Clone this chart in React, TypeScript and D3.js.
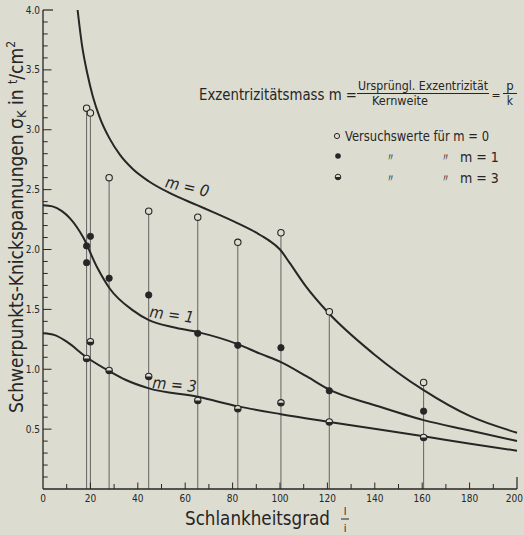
import React from "react";
import * as d3 from "d3";

const W = 524;
const H = 535;

// x-axis ticks (Schlankheitsgrad) and y-axis ticks (t/cm²)
const xTickLabels = [0, 20, 40, 60, 80, 100, 120, 140, 160, 180, 200];
const yTickLabels = ["0.5", "1.0", "1.5", "2.0", "2.5", "3.0", "3.5", "4.0"];

// measurement stations (vertical lines)
const stationX = [18.4, 20, 27.9, 44.6, 65.3, 82.2, 100.4, 120.8, 160.6];

// Versuchswerte (test values)
const m0Points: [number, number][] = [
  [18.4, 3.18], [20, 3.14], [27.9, 2.6], [44.6, 2.32], [65.3, 2.27],
  [82.2, 2.06], [100.4, 2.14], [120.8, 1.48], [160.6, 0.89],
];
const m1Points: [number, number][] = [
  [18.4, 2.03], [18.4, 1.89], [20, 2.11], [27.9, 1.76], [44.6, 1.62],
  [65.3, 1.3], [82.2, 1.2], [100.4, 1.18], [120.8, 0.82], [160.6, 0.65],
];
const m3Points: [number, number][] = [
  [18.4, 1.09], [20, 1.23], [27.9, 0.99], [44.6, 0.94], [65.3, 0.74],
  [82.2, 0.67], [100.4, 0.72], [120.8, 0.56], [160.6, 0.43],
];

// theoretical curves
const m0Curve: [number, number][] = [
  [14.6, 4.0], [16.5, 3.7], [18.7, 3.47], [21, 3.28], [24, 3.1], [28, 2.93],
  [32.5, 2.79], [38, 2.67], [44.6, 2.57], [53.6, 2.47], [65, 2.37],
  [72, 2.31], [82, 2.22], [90, 2.14], [95, 2.08], [100, 2.0], [104, 1.89],
  [111, 1.69], [120, 1.48], [139.4, 1.13], [160.6, 0.825], [180, 0.61],
  [200, 0.47],
];
const m1Curve: [number, number][] = [
  [0, 2.37], [4, 2.36], [8, 2.32], [11.4, 2.26], [17, 2.1], [22.6, 1.86],
  [28.3, 1.67], [38.1, 1.49], [44.7, 1.41], [55, 1.35], [65.3, 1.31],
  [82.1, 1.21], [91.6, 1.13], [100.4, 1.06], [111.3, 0.94], [120.8, 0.83],
  [140, 0.7], [160.6, 0.575], [179.6, 0.49], [200, 0.4],
];
const m3Curve: [number, number][] = [
  [0, 1.3], [5, 1.285], [10, 1.23], [18.4, 1.1], [28.3, 0.98], [35, 0.91],
  [44.7, 0.84], [65.3, 0.77], [82.4, 0.69], [100.4, 0.625], [120.8, 0.56],
  [160.6, 0.44], [179.6, 0.38], [200, 0.32],
];

const BG = "#dddcd0";
const INK = "#262626";
const FONT = "'Liberation Sans Narrow', 'DejaVu Sans Condensed', 'Liberation Sans', sans-serif";

export default function App() {
  const x = d3.scaleLinear().domain([0, 200]).range([43, 517]);
  const y = d3.scaleLinear().domain([0, 4]).range([489, 10]);

  const line = d3
    .line<[number, number]>()
    .x((d) => x(d[0]))
    .y((d) => y(d[1]))
    .curve(d3.curveMonotoneX);

  const yMinor = d3.range(1, 40).map((i) => i / 10);
  const xMinor = d3.range(10, 200, 10);

  const tops = stationX.map((sx) =>
    d3.max([...m0Points, ...m1Points, ...m3Points].filter((p) => p[0] === sx), (p) => p[1]) as number
  );

  const r = 3.2;

  return (
    <svg
      width={W}
      height={H}
      style={{ position: "absolute", left: 0, top: 0, background: BG }}
      fontFamily={FONT}
    >
      <rect x={0} y={0} width={W} height={H} fill={BG} />

      {/* station lines */}
      {stationX.map((sx, i) => (
        <line key={"s" + i} x1={x(sx)} x2={x(sx)} y1={y(0)} y2={y(tops[i])} stroke="#555" strokeWidth={0.9} />
      ))}

      {/* axes */}
      <line x1={x(0)} x2={x(0)} y1={y(0)} y2={y(4)} stroke={INK} strokeWidth={1.3} />
      <line x1={x(0)} x2={x(200)} y1={y(0)} y2={y(0)} stroke={INK} strokeWidth={1.3} />

      {/* y ticks */}
      {yMinor.map((v) => {
        const major = Math.abs(v * 2 - Math.round(v * 2)) < 1e-6;
        return (
          <line key={"yt" + v} x1={x(0)} x2={x(0) + (major ? 8.5 : 4.7)} y1={y(v)} y2={y(v)} stroke={INK} strokeWidth={1} />
        );
      })}
      <line x1={x(0)} x2={x(0) + 10} y1={y(4)} y2={y(4)} stroke={INK} strokeWidth={1.2} />
      {yTickLabels.map((t) => (
        <text key={"yl" + t} x={x(0) - 3} y={y(+t) + 3.5} textAnchor="end" fontSize={10} fill={INK}>
          {t}
        </text>
      ))}

      {/* x ticks */}
      {xMinor.map((v) => (
        <line key={"xt" + v} x1={x(v)} x2={x(v)} y1={y(0)} y2={y(0) - (v % 20 === 0 ? 6.5 : 5)} stroke={INK} strokeWidth={1} />
      ))}
      <line x1={x(200)} x2={x(200)} y1={y(0)} y2={y(0) - 12} stroke={INK} strokeWidth={1.2} />
      {xTickLabels.map((t) => (
        <text
          key={"xl" + t}
          x={t === 200 ? 523 : x(t)}
          y={y(0) + 13}
          textAnchor={t === 200 ? "end" : "middle"}
          fontSize={10}
          fill={INK}
        >
          {t}
        </text>
      ))}

      {/* curves */}
      {[m0Curve, m1Curve, m3Curve].map((c, i) => (
        <path key={"c" + i} d={line(c) || ""} fill="none" stroke={INK} strokeWidth={2} />
      ))}

      {/* points */}
      {m0Points.map((p, i) => (
        <circle key={"p0" + i} cx={x(p[0])} cy={y(p[1])} r={r} fill={BG} stroke={INK} strokeWidth={1.1} />
      ))}
      {m1Points.map((p, i) => (
        <circle key={"p1" + i} cx={x(p[0])} cy={y(p[1])} r={r} fill={INK} stroke={INK} strokeWidth={0.8} />
      ))}
      {m3Points.map((p, i) => (
        <g key={"p3" + i}>
          <circle cx={x(p[0])} cy={y(p[1])} r={r} fill={BG} stroke={INK} strokeWidth={1.1} />
          <path
            d={`M${x(p[0]) - r},${y(p[1])} A${r},${r} 0 0 0 ${x(p[0]) + r},${y(p[1])} Z`}
            fill={INK}
          />
        </g>
      ))}

      {/* curve labels */}
      <text x={0} y={0} transform="translate(186,192) rotate(13)" textAnchor="middle" fontSize={16} fontStyle="italic" fill={INK}>
        m = 0
      </text>
      <text x={0} y={0} transform="translate(171,320) rotate(8)" textAnchor="middle" fontSize={16} fontStyle="italic" fill={INK}>
        m = 1
      </text>
      <text x={0} y={0} transform="translate(174,390) rotate(5)" textAnchor="middle" fontSize={16} fontStyle="italic" fill={INK}>
        m = 3
      </text>

      {/* title formula */}
      <text x={199} y={100} fontSize={15} fill={INK} textLength={158} lengthAdjust="spacingAndGlyphs">
        Exzentrizitätsmass m =
      </text>
      <text x={423} y={90} textAnchor="middle" fontSize={12} fill={INK} textLength={130} lengthAdjust="spacingAndGlyphs">
        Ursprüngl. Exzentrizität
      </text>
      <line x1={357} x2={489} y1={93.5} y2={93.5} stroke={INK} strokeWidth={1} />
      <text x={400} y={105} textAnchor="middle" fontSize={12} fill={INK} textLength={56} lengthAdjust="spacingAndGlyphs">
        Kernweite
      </text>
      <text x={496} y={99} textAnchor="middle" fontSize={12} fill={INK}>=</text>
      <text x={510} y={90} textAnchor="middle" fontSize={13} fill={INK}>p</text>
      <line x1={503} x2={517} y1={93.5} y2={93.5} stroke={INK} strokeWidth={1} />
      <text x={510} y={105} textAnchor="middle" fontSize={12} fill={INK}>k</text>

      {/* legend */}
      <circle cx={337} cy={136} r={2.6} fill={BG} stroke={INK} strokeWidth={1} />
      <text x={345} y={141} fontSize={14} fill={INK} textLength={144} lengthAdjust="spacingAndGlyphs">
        Versuchswerte für m = 0
      </text>
      <circle cx={338} cy={156} r={2.8} fill={INK} />
      <text x={390} y={161} textAnchor="middle" fontSize={11} fill={INK}>〃</text>
      <text x={445} y={161} textAnchor="middle" fontSize={11} fill={INK}>〃</text>
      <text x={460} y={162} fontSize={14} fill={INK}>m = 1</text>
      <circle cx={338} cy={177} r={2.8} fill={BG} stroke={INK} strokeWidth={1} />
      <path d={`M${338 - 2.8},177 A2.8,2.8 0 0 0 ${338 + 2.8},177 Z`} fill={INK} />
      <text x={390} y={182} textAnchor="middle" fontSize={11} fill={INK}>〃</text>
      <text x={445} y={182} textAnchor="middle" fontSize={11} fill={INK}>〃</text>
      <text x={460} y={183} fontSize={14} fill={INK}>m = 3</text>

      {/* axis titles */}
      <text x={185} y={525} fontSize={20} fill={INK} textLength={145} lengthAdjust="spacingAndGlyphs">
        Schlankheitsgrad
      </text>
      <text x={345} y={515} textAnchor="middle" fontSize={11} fill={INK}>l</text>
      <line x1={341} x2={349} y1={519} y2={519} stroke={INK} strokeWidth={1} />
      <text x={345} y={532} textAnchor="middle" fontSize={11} fill={INK}>i</text>

      <text
        transform="translate(23,413) rotate(-90)"
        x={0}
        y={0}
        fontSize={19}
        fill={INK}
      >
        Schwerpunkts-Knickspannungen σ
        <tspan fontSize={13} dy={3}>K</tspan>
        <tspan dy={-3}> in </tspan>
        <tspan fontSize={12} dy={-6}>t</tspan>
        <tspan dy={6}>/cm</tspan>
        <tspan fontSize={12} dy={-8}>2</tspan>
      </text>
    </svg>
  );
}
